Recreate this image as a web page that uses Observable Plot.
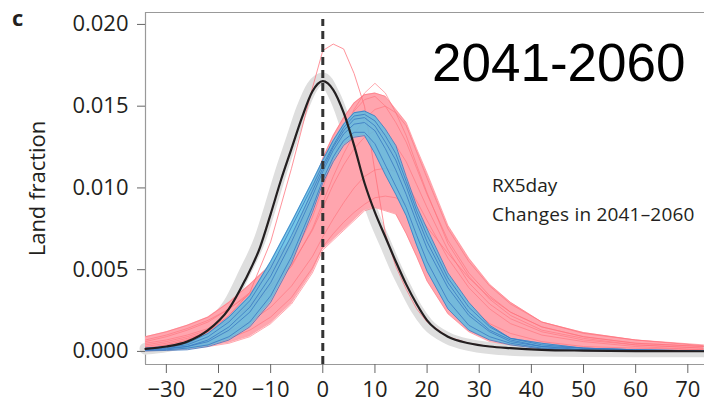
<!DOCTYPE html>
<html>
<head>
<meta charset="utf-8">
<script src="https://cdn.jsdelivr.net/npm/d3@7"></script>
<script src="https://cdn.jsdelivr.net/npm/@observablehq/plot@0.6"></script>
<style>
  html, body { margin: 0; padding: 0; background: #fff; }
  #wrap { position: relative; width: 704px; height: 403px; overflow: hidden; }
  .lbl { position: absolute; white-space: nowrap; color: #231f20; }
</style>
</head>
<body>
<div id="wrap">
  <div class="lbl" style="left:12px;top:2px;font:bold 22px 'Open Sans';">c</div>
  <div class="lbl" style="left:432px;top:33px;font:53px 'Liberation Sans';color:#000;line-height:60px;">2041-2060</div>
  <div class="lbl" style="left:492px;top:174px;font:19px 'Open Sans';line-height:22px;">RX5day</div>
  <div class="lbl" style="left:492px;top:203px;font:19px 'Open Sans';line-height:22px;letter-spacing:0.2px;">Changes in 2041–2060</div>
</div>
<script>
// x grid (change in %) shared by the ensemble series
const X = [-34,-30,-26,-22,-18,-14,-10,-6,-2,0,2,4,6,8,10,12,14,16,18,20,24,28,32,36,42,50,60,73];

// red ensemble: envelope (lower / upper) and individual members
const redLower = [0.00003,0.00008,0.00015,0.0003,0.0005,0.0009,0.0017,0.0029,0.0048,0.0062,0.0068,0.0074,0.0080,0.0086,0.0088,0.0086,0.0084,0.0072,0.0058,0.0043,0.0023,0.0012,0.0006,0.0004,0.0002,0.0001,0.00005,0.00002];
const redUpper = [0.0009,0.0012,0.0016,0.0021,0.0030,0.0041,0.0053,0.0069,0.0099,0.0118,0.0132,0.0143,0.0152,0.0157,0.0158,0.0156,0.0148,0.0140,0.0124,0.0109,0.0077,0.0057,0.0041,0.0030,0.0018,0.00115,0.0007,0.00035];
const red1 = [0.0007,0.0010,0.0014,0.0019,0.0026,0.0036,0.0048,0.0064,0.0090,0.0108,0.0124,0.0137,0.0147,0.0154,0.0156,0.0150,0.0140,0.0128,0.0112,0.0096,0.0068,0.0048,0.0034,0.0024,0.0015,0.0009,0.0005,0.0003];
const red2 = [0.0005,0.0007,0.0010,0.0014,0.0021,0.0029,0.0040,0.0053,0.0074,0.0088,0.0102,0.0114,0.0124,0.0131,0.0135,0.0133,0.0126,0.0116,0.0102,0.0088,0.0062,0.0042,0.0029,0.0020,0.0012,0.0007,0.0004,0.0002];
const red3 = [0.0002,0.0003,0.0005,0.0008,0.0012,0.0018,0.0027,0.0040,0.0058,0.0070,0.0081,0.0091,0.0100,0.0107,0.0111,0.0112,0.0110,0.0103,0.0092,0.0080,0.0057,0.0039,0.0026,0.0017,0.0010,0.0006,0.0003,0.0001];
const red4 = [0.0001,0.0002,0.0003,0.0005,0.0008,0.0013,0.0021,0.0033,0.0051,0.0064,0.0072,0.0079,0.0085,0.0090,0.0094,0.0095,0.0094,0.0090,0.0084,0.0076,0.0060,0.0045,0.0033,0.0024,0.0015,0.0009,0.0005,0.0003];
const red5 = [0.0006,0.0009,0.0013,0.0018,0.0026,0.0035,0.0049,0.0066,0.0092,0.0110,0.0125,0.0136,0.0143,0.0145,0.0141,0.0131,0.0117,0.0100,0.0083,0.0068,0.0044,0.0028,0.0017,0.0011,0.0006,0.0003,0.0002,0.0001];
const red6 = [0.0004,0.0006,0.0009,0.0013,0.0019,0.0027,0.0038,0.0052,0.0075,0.0091,0.0107,0.0121,0.0133,0.0142,0.0148,0.0150,0.0146,0.0138,0.0122,0.0106,0.0075,0.0055,0.0040,0.0029,0.0018,0.0011,0.0007,0.0004];
const red7 = [0.0003,0.0005,0.0008,0.0012,0.0019,0.0028,0.0040,0.0056,0.0082,0.0100,0.0118,0.0134,0.0148,0.0158,0.0164,0.0158,0.0146,0.0132,0.0114,0.0097,0.0066,0.0046,0.0032,0.0022,0.0013,0.0008,0.0004,0.0002];
const redOutlier = [0.0002,0.0004,0.0007,0.0012,0.0022,0.0036,0.0067,0.0112,0.0161,0.0184,0.0188,0.0185,0.0170,0.0150,0.0110,0.0072,0.0052,0.0038,0.0026,0.0018,0.0009,0.0005,0.0003,0.0002,0.0001,0.00005,0.00002,0.00001];

// blue ensemble: envelope and members
const blueLower = [0.00003,0.00006,0.0001,0.0003,0.0007,0.0015,0.0030,0.0054,0.0085,0.0103,0.0116,0.0126,0.0131,0.0132,0.0121,0.0108,0.0096,0.0083,0.0065,0.0049,0.0026,0.0013,0.0007,0.0004,0.00015,0.00005,0.00002,0.00001];
const blueUpper = [0.0002,0.0003,0.0005,0.0011,0.0021,0.0034,0.0055,0.0079,0.0104,0.0117,0.0129,0.0139,0.0146,0.0147,0.0144,0.0136,0.0126,0.0107,0.0089,0.0075,0.0048,0.0030,0.0016,0.0008,0.0005,0.0002,0.0001,0.00003];
const blue1 = [0.00015,0.00025,0.0004,0.0009,0.0018,0.0031,0.0051,0.0076,0.0101,0.0114,0.0126,0.0137,0.0144,0.0145,0.0141,0.0132,0.0121,0.0104,0.0086,0.0071,0.0045,0.0027,0.0015,0.0008,0.0004,0.0002,0.0001,0.00003];
const blue2 = [0.0001,0.00015,0.0003,0.0006,0.0013,0.0024,0.0042,0.0067,0.0095,0.0110,0.0123,0.0133,0.0139,0.0140,0.0135,0.0124,0.0111,0.0096,0.0079,0.0063,0.0039,0.0022,0.0012,0.0006,0.0003,0.0001,0.00005,0.00002];
const blue3 = [0.00005,0.0001,0.0002,0.0004,0.0009,0.0018,0.0034,0.0058,0.0088,0.0105,0.0119,0.0129,0.0134,0.0134,0.0127,0.0114,0.0101,0.0088,0.0071,0.0055,0.0031,0.0016,0.0009,0.0005,0.0002,0.0001,0.00003,0.00001];
const blue4 = [0.0001,0.0002,0.0003,0.0007,0.0015,0.0027,0.0046,0.0071,0.0098,0.0112,0.0125,0.0135,0.0142,0.0143,0.0138,0.0128,0.0117,0.0101,0.0083,0.0067,0.0042,0.0024,0.0013,0.0007,0.0003,0.0002,0.0001,0.00002];

// observed reference distribution (black) and its grey uncertainty band
const BX = [-34,-30,-26,-22,-18,-15,-12,-10,-8,-6,-4,-2,0,2,4,6,8,10,12,14,16,18,20,24,28,32,36,42,50,60,73];
const blackY = [0.00016,0.0003,0.0006,0.0013,0.0026,0.0043,0.0064,0.0084,0.0105,0.0124,0.0143,0.0159,0.01653,0.0160,0.0146,0.0126,0.0103,0.0085,0.0070,0.0055,0.0041,0.0029,0.0019,0.0009,0.0005,0.0003,0.0002,0.0001,0.00005,0.00002,0.00001];
const greyY  = [0.00017,0.00033,0.00065,0.0015,0.0029,0.0048,0.0069,0.0089,0.0110,0.0129,0.0148,0.0162,0.0167,0.0158,0.0142,0.0120,0.0099,0.0081,0.0066,0.0051,0.0038,0.0026,0.0017,0.0008,0.0004,0.0002,0.0001,0.00005,0.00002,0.00001,0.00001];

// axes
const xTicks = [-30,-20,-10,0,10,20,30,40,50,60,70];
const yTicks = [0, 0.005, 0.010, 0.015, 0.020];
const xDomain = [-34, 73.2];
const yDomain = [-0.0008, 0.02073];

const rows = (ys) => X.map((x, i) => ({x, y: ys[i]}));
const band = (lo, hi) => X.map((x, i) => ({x, y1: lo[i], y2: hi[i]}));
const redMembers = [red1, red2, red3, red4, red5, red6, red7, redLower, redUpper];
const blueMembers = [blue1, blue2, blue3, blue4, blueLower, blueUpper];
const blackRows = BX.map((x, i) => ({x, y: blackY[i]}));
const greyRows = BX.map((x, i) => ({x, y: greyY[i]}));

const fmtX = d => d < 0 ? "\u2212" + (-d) : String(d);

const chart = Plot.plot({
  width: 704,
  height: 403,
  marginLeft: 145,
  marginRight: 0,
  marginTop: 12,
  marginBottom: 39,
  style: {fontFamily: "'Open Sans'", color: "#231f20", background: "white", overflow: "visible"},
  x: {domain: xDomain},
  y: {domain: yDomain},
  marks: [
    Plot.ruleY([yDomain[1]], {stroke: "#999", strokeWidth: 1.2}),
    Plot.ruleY([yDomain[0]], {stroke: "#999", strokeWidth: 1.2}),
    Plot.ruleX([xDomain[0]], {stroke: "#999", strokeWidth: 1.2}),
    Plot.line(greyRows, {x: "x", y: "y", stroke: "#dedede", strokeWidth: 12, curve: "monotone-x"}),
    Plot.areaY(band(redLower, redUpper), {x: "x", y1: "y1", y2: "y2", fill: "#ffa5ae", curve: "linear"}),
    ...redMembers.map(s => Plot.line(rows(s), {x: "x", y: "y", stroke: "#ff6f7a", strokeOpacity: 0.6, strokeWidth: 1})),
    Plot.line(rows(redOutlier), {x: "x", y: "y", stroke: "#ff6f7a", strokeOpacity: 0.75, strokeWidth: 1}),
    Plot.areaY(band(blueLower, blueUpper), {x: "x", y1: "y1", y2: "y2", fill: "#5cbde3", fillOpacity: 0.85}),
    ...blueMembers.map(s => Plot.line(rows(s), {x: "x", y: "y", stroke: "#3a78c2", strokeOpacity: 0.8, strokeWidth: 1})),
    Plot.line(blackRows, {x: "x", y: "y", stroke: "#231f20", strokeWidth: 2.2, curve: "monotone-x"}),
    Plot.ruleX([0], {y1: yDomain[0], y2: 0.0203, stroke: "#333", strokeWidth: 3, strokeDasharray: "8,5"}),
    Plot.axisY({ticks: yTicks, tickFormat: d3.format(".3f"), tickSize: 8, tickPadding: 9, fontSize: 22,
      stroke: "#666", label: "Land fraction", labelAnchor: "center", labelArrow: "none", labelOffset: 116,
      style: {letterSpacing: "1px"}}),
    Plot.axisX({ticks: xTicks, tickFormat: fmtX, tickSize: 9, tickPadding: 8, fontSize: 22, stroke: "#666", label: null})
  ]
});
document.getElementById("wrap").prepend(chart);
</script>
</body>
</html>
